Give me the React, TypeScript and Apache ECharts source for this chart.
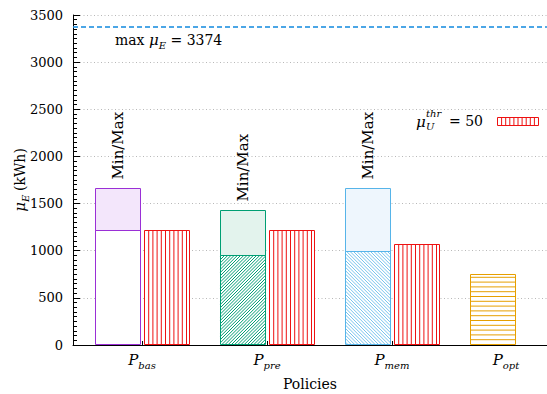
import React, { useEffect, useRef } from "react";
import * as echarts from "echarts";

// ---- data ----
const categories = ["bas", "pre", "mem", "opt"];
const baseValues = [1215, 955, 1000, 750]; // lower part of the policy bar
const maxValues: (number | null)[] = [1670, 1435, 1670, null]; // top of the Min/Max range
const thrValues: (number | null)[] = [1215, 1215, 1068, null]; // bars for mu_U^thr = 50
const maxMuE = 3374;
const thrLabel = 50;
const rangeLabel = "Min/Max";

// ---- style ----
const FONT = "DejaVu Serif";
const strokeColors = ["#9a2fd6", "#009e73", "#56b4e9", "#e69f00"];
const topFills = ["#f3e6fb", "#e3f3ed", "#eef6fd", "#ffffff"];
const patterns = ["none", "fwd", "back", "horiz"];
const RED = "#ee1111";
const BLUE = "#1e90e0";
const BW = 45;
const GAP = 4.5;

function hatch(kind: string, x0: number, y0: number, x1: number, y1: number, p: number, color: string, lw: number) {
  const out: any[] = [];
  const mk = (ax: number, ay: number, bx: number, by: number) =>
    out.push({ type: "line", shape: { x1: ax, y1: ay, x2: bx, y2: by }, style: { stroke: color, lineWidth: lw } });
  if (kind === "fwd") {
    for (let c = Math.ceil((x0 + y0) / p) * p; c <= x1 + y1; c += p) {
      const xa = Math.max(x0, c - y1);
      const xb = Math.min(x1, c - y0);
      if (xb > xa) mk(xa, c - xa, xb, c - xb);
    }
  } else if (kind === "back") {
    for (let c = Math.ceil((y0 - x1) / p) * p; c <= y1 - x0; c += p) {
      const xa = Math.max(x0, y0 - c);
      const xb = Math.min(x1, y1 - c);
      if (xb > xa) mk(xa, xa + c, xb, xb + c);
    }
  } else if (kind === "horiz") {
    for (let y = y1 - p; y > y0 + 0.5; y -= p) mk(x0, y, x1, y);
  } else if (kind === "vert") {
    for (let x = x0 + p; x < x1 - 0.5; x += p) mk(x, y0, x, y1);
  } else if (kind === "dash") {
    for (let x = x0; x < x1; x += p) mk(x, y0, Math.min(x + 5, x1), y0);
  }
  return out;
}

const rich = {
  n: { fontFamily: FONT, fontSize: 14, color: "#000", lineHeight: 20 },
  i: { fontFamily: FONT, fontSize: 15, fontStyle: "italic", color: "#000", lineHeight: 20 },
  s: { fontFamily: FONT, fontSize: 10, fontStyle: "italic", color: "#000", lineHeight: 10, verticalAlign: "bottom" },
};

export default function App() {
  const ref = useRef<HTMLDivElement>(null);
  useEffect(() => {
    if (!ref.current) return;
    const chart = echarts.init(ref.current, null, { renderer: "svg" });

    const mainData = categories.map((_, i) => [i, baseValues[i], maxValues[i] == null ? "-" : maxValues[i]]);
    const thrData = categories.map((_, i) => [i, thrValues[i] == null ? "-" : thrValues[i]]);

    const keyX = 497, keyY = 117, keyW = 41, keyH = 8;

    chart.setOption({
      animation: false,
      backgroundColor: "#fff",
      textStyle: { fontFamily: FONT },
      grid: { left: 73, right: 0, top: 15, bottom: 49, outerBoundsMode: "none" },
      xAxis: {
        type: "value",
        min: -0.552,
        max: 3.24,
        name: "Policies",
        nameLocation: "middle",
        nameGap: 32,
        nameMoveOverlap: false,
        nameTextStyle: { fontFamily: FONT, fontSize: 14, color: "#000" },
        axisLine: { show: true, onZero: false, lineStyle: { color: "#000", width: 1 } },
        axisTick: { show: true, inside: true, length: 4, customValues: [0, 1, 2], lineStyle: { color: "#000" } },
        axisLabel: {
          show: true,
          customValues: [0, 1, 2, 3],
          margin: 5,
          formatter: (v: number) => {
            const k = Math.round(v);
            if (k === 3) return `{i|P}{sp|${categories[k]}}`;
            return `{i|P}{s|${categories[k]}}`;
          },
          rich: {
            ...rich,
            sp: { ...rich.s, padding: [0, 22, 0, 0] },
          },
        },
        splitLine: { show: false },
      },
      yAxis: {
        type: "value",
        min: 0,
        max: 3500,
        interval: 500,
        name: "{i|μ}{s|E} {n|(kWh)}",
        nameLocation: "middle",
        nameRotate: 90,
        nameGap: 43,
        nameMoveOverlap: false,
        nameTextStyle: { rich },
        axisLine: { show: true, onZero: false, lineStyle: { color: "#000", width: 1 } },
        axisTick: { show: true, inside: true, length: 7, lineStyle: { color: "#000" } },
        minorTick: { show: true, splitNumber: 10, length: 4, lineStyle: { color: "#000" } },
        axisLabel: { fontFamily: FONT, fontSize: 13, color: "#000", margin: 10, formatter: (v: number) => String(v) },
        splitLine: { show: true, lineStyle: { color: "#b8b8b8", type: [1, 2.5], width: 1 } },
      },
      series: [
        {
          type: "custom",
          name: "policy",
          data: mainData,
          encode: { x: 0, y: [1, 2] },
          renderItem: (params: any, api: any) => {
            const idx = api.value(0);
            const base = api.value(1);
            const mx = api.value(2);
            const c0 = api.coord([idx, 0]);
            const cb = api.coord([idx, base]);
            const color = strokeColors[idx];
            const x0 = Math.round(c0[0] - GAP / 2 - BW) + 0.5;
            const x1 = x0 + BW;
            const yb = Math.round(c0[1]) - 0.5;
            const ybase = Math.round(cb[1]) + 0.5;
            const children: any[] = [];
            children.push({ type: "rect", shape: { x: x0, y: ybase, width: BW, height: yb - ybase }, style: { fill: "#fff" } });
            const kind = patterns[idx];
            const p = kind === "fwd" ? 3.2 : kind === "back" ? 3.4 : 4.8;
            if (kind !== "none") children.push(...hatch(kind, x0, ybase, x1, yb, p, color, kind === "back" ? 0.8 : 1));
            if (typeof mx === "number" && isFinite(mx)) {
              const cm = api.coord([idx, mx]);
              const ym = Math.round(cm[1]) + 0.5;
              children.push({
                type: "rect",
                shape: { x: x0, y: ym, width: BW, height: ybase - ym },
                style: { fill: topFills[idx], stroke: color, lineWidth: 1 },
              });
              children.push({
                type: "text",
                x: (x0 + x1) / 2,
                y: ym - 9,
                rotation: Math.PI / 2,
                style: { text: rangeLabel, fontFamily: FONT, fontSize: 15, fill: "#000", align: "left", verticalAlign: "middle" },
              });
            }
            children.push({
              type: "rect",
              shape: { x: x0, y: ybase, width: BW, height: yb - ybase },
              style: { fill: "none", stroke: color, lineWidth: 1 },
            });
            return { type: "group", children };
          },
        },
        {
          type: "custom",
          name: "thr",
          data: thrData,
          encode: { x: 0, y: 1 },
          renderItem: (params: any, api: any) => {
            const idx = api.value(0);
            const v = api.value(1);
            if (!(typeof v === "number" && isFinite(v))) return null;
            const c0 = api.coord([idx, 0]);
            const cv = api.coord([idx, v]);
            const x0 = Math.round(c0[0] + GAP / 2) + 0.5;
            const x1 = x0 + BW;
            const yb = Math.round(c0[1]) - 0.5;
            const yt = Math.round(cv[1]) + 0.5;
            return {
              type: "group",
              children: [
                { type: "rect", shape: { x: x0, y: yt, width: BW, height: yb - yt }, style: { fill: "#fff" } },
                ...hatch("vert", x0, yt, x1, yb, 4.2, RED, 1),
                { type: "rect", shape: { x: x0, y: yt, width: BW, height: yb - yt }, style: { fill: "none", stroke: RED, lineWidth: 1 } },
              ],
            };
          },
        },
        {
          type: "custom",
          name: "maxLine",
          data: [[0, maxMuE]],
          encode: { x: 0, y: 1 },
          z: 5,
          renderItem: (params: any, api: any) => {
            const cs = params.coordSys;
            const y = Math.round(api.coord([0, api.value(1)])[1]);
            return {
              type: "group",
              children: [
                ...hatch("dash", cs.x, y, cs.x + cs.width, y, 8, BLUE, 1.6),
                {
                  type: "text",
                  x: cs.x + 42,
                  y: y + 3,
                  style: {
                    text: `{n|max }{i|μ}{s|E}{n| = ${api.value(1)}}`,
                    rich,
                    fontFamily: FONT,
                    fontSize: 14,
                    fill: "#000",
                    align: "left",
                    verticalAlign: "top",
                  },
                },
              ],
            };
          },
        },
      ],
      graphic: [
        {
          type: "group",
          children: [
            { type: "text", x: 416, y: 122, style: { text: "μ", fontFamily: FONT, fontStyle: "italic", fontSize: 15, fill: "#000", verticalAlign: "middle" } },
            { type: "text", x: 426, y: 113, style: { text: "thr", fontFamily: FONT, fontStyle: "italic", fontSize: 10, fill: "#000", verticalAlign: "middle" } },
            { type: "text", x: 426, y: 126, style: { text: "U", fontFamily: FONT, fontStyle: "italic", fontSize: 10, fill: "#000", verticalAlign: "middle" } },
            { type: "text", x: 483, y: 121, style: { text: `= ${thrLabel}`, fontFamily: FONT, fontSize: 14, fill: "#000", align: "right", verticalAlign: "middle" } },
            { type: "rect", shape: { x: keyX + 0.5, y: keyY + 0.5, width: keyW, height: keyH }, style: { fill: "#fff", stroke: RED, lineWidth: 1 } },
            ...hatch("vert", keyX + 0.5, keyY + 0.5, keyX + 0.5 + keyW, keyY + 0.5 + keyH, 4.1, RED, 1),
          ],
        },
      ],
    });
    return () => chart.dispose();
  }, []);
  return <div ref={ref} style={{ position: "fixed", left: 0, top: 0, width: 547, height: 394 }} />;
}
